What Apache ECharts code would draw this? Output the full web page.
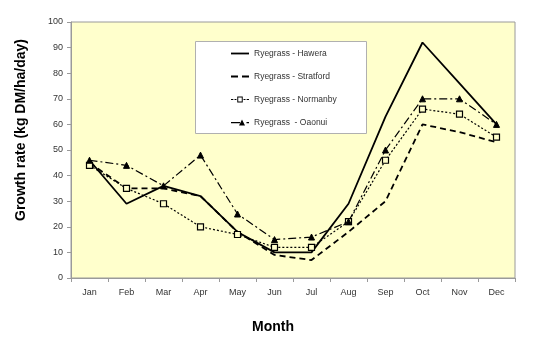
<!DOCTYPE html>
<html>
<head>
<meta charset="utf-8">
<script src="https://cdn.jsdelivr.net/npm/echarts@6/dist/echarts.min.js"></script>
<style>
  html, body { margin: 0; padding: 0; background: #fff; }
  #chart { width: 550px; height: 343px; }
</style>
</head>
<body>
<div id="chart"></div>
<script>
// Monthly ryegrass growth rates (kg DM/ha/day) at four Taranaki sites
const months = ['Jan', 'Feb', 'Mar', 'Apr', 'May', 'Jun', 'Jul', 'Aug', 'Sep', 'Oct', 'Nov', 'Dec'];
const hawera    = [46, 29, 36, 32, 18, 10, 10, 29, 63, 92, 76, 60];
const stratford = [45, 35, 35, 32, 18,  9,  7, 18, 30, 60, 57, 53];
const normanby  = [44, 35, 29, 20, 17, 12, 12, 22, 46, 66, 64, 55];
const oaonui    = [46, 44, 36, 48, 25, 15, 16, 22, 50, 70, 70, 60];
const yTicks = { min: 0, max: 100, step: 10 };

const FONT = 'Liberation Sans, Arial, Helvetica, sans-serif';
const BG = '#FFFFCC';

// Legend keys drawn as small line samples (solid, dashed, dotted+square, dash-dot+triangle)
const keySolid  = 'path://M0,0h18v1.8h-18z';
const keyDashed = 'path://M0,0h7v1.8h-7z M11,0h7v1.8h-7z';
const keySquare = 'path://M0,2.4h2.4v1.2h-2.4z M3.6,2.4h2v1.2h-2z M6.4,0h5.6v6h-5.6z M7.4,1v4h3.6v-4z M12.8,2.4h2v1.2h-2z M16,2.4h2.4v1.2h-2.4z';
const keyTri    = 'path://M0,2.6h9v1.2h-9z M8,6L11,0L14,6z M15.5,2.6h2.5v1.2h-2.5z';

const chart = echarts.init(document.getElementById('chart'), null, { renderer: 'canvas' });

chart.setOption({
  animation: false,
  backgroundColor: '#fff',
  textStyle: { fontFamily: FONT },
  grid: {
    left: 71, right: 35, top: 22, bottom: 65,
    show: true, backgroundColor: BG, borderColor: '#9a9a9a', borderWidth: 1
  },
  graphic: [{
    type: 'rect', z: 1,
    shape: { x: 195.5, y: 41.5, width: 171, height: 92 },
    style: { fill: '#fff', stroke: '#b0b0b0', lineWidth: 1 }
  }],
  legend: {
    orient: 'vertical', left: 226, top: 44, z: 5,
    itemWidth: 18, itemHeight: 10, itemGap: 14,
    symbolKeepAspect: true,
    itemStyle: { color: '#000', borderWidth: 0 },
    lineStyle: { width: 0 },
    textStyle: { fontSize: 8.5, color: '#333', fontFamily: FONT },
    data: [
      { name: 'Ryegrass - Hawera', icon: keySolid },
      { name: 'Ryegrass - Stratford', icon: keyDashed },
      { name: 'Ryegrass - Normanby', icon: keySquare },
      { name: 'Ryegrass  - Oaonui', icon: keyTri }
    ]
  },
  xAxis: {
    type: 'category', data: months, boundaryGap: true,
    name: 'Month', nameLocation: 'middle', nameGap: 42,
    nameTextStyle: { fontSize: 14, fontWeight: 'bold', color: '#000', padding: [0, 40, 0, 0] },
    axisLine: { lineStyle: { color: '#9a9a9a' } },
    axisTick: { show: true, length: 4, alignWithLabel: false, lineStyle: { color: '#9a9a9a' } },
    axisLabel: { fontSize: 9, color: '#333', margin: 10 },
    splitLine: { show: false }
  },
  yAxis: {
    type: 'value', min: yTicks.min, max: yTicks.max, interval: yTicks.step,
    name: 'Growth rate (kg DM/ha/day)', nameLocation: 'middle', nameGap: 43,
    nameTextStyle: { fontSize: 14, fontWeight: 'bold', color: '#000', padding: [0, 0, 0, 40] },
    axisLine: { show: true, lineStyle: { color: '#9a9a9a' } },
    axisTick: { show: true, length: 4, lineStyle: { color: '#9a9a9a' } },
    axisLabel: { fontSize: 9, color: '#333', margin: 8 },
    splitLine: { show: false }
  },
  series: [
    {
      name: 'Ryegrass - Hawera', type: 'line', data: hawera,
      showSymbol: false, symbol: 'none',
      lineStyle: { color: '#000', width: 1.8, type: 'solid' },
      itemStyle: { color: '#000' }
    },
    {
      name: 'Ryegrass - Stratford', type: 'line', data: stratford,
      showSymbol: false, symbol: 'none',
      lineStyle: { color: '#000', width: 1.8, type: [6, 4] },
      itemStyle: { color: '#000' }
    },
    {
      name: 'Ryegrass - Normanby', type: 'line', data: normanby,
      symbol: 'rect', symbolSize: 6,
      lineStyle: { color: '#000', width: 1.2, type: [2, 2] },
      itemStyle: { color: BG, borderColor: '#000', borderWidth: 1.2 }
    },
    {
      name: 'Ryegrass  - Oaonui', type: 'line', data: oaonui,
      symbol: 'triangle', symbolSize: 6,
      lineStyle: { color: '#000', width: 1.2, type: [8, 3, 2, 3] },
      itemStyle: { color: '#000', borderColor: '#000' }
    }
  ]
});
</script>
</body>
</html>
